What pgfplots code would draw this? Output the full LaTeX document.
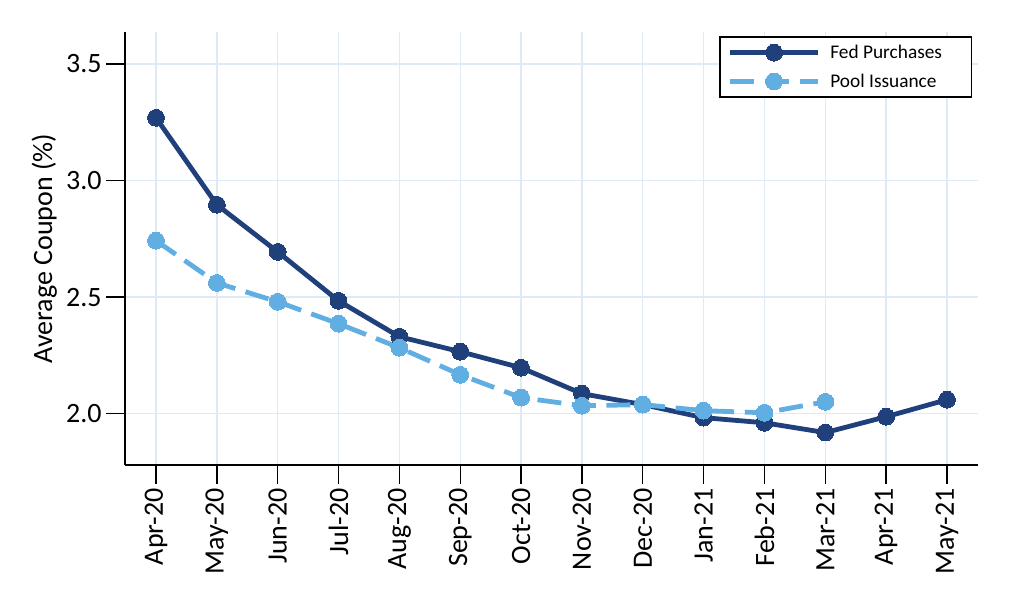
\documentclass[border=0pt]{standalone}
\usepackage{pgfplots}
\pgfplotsset{compat=1.18}
\usepackage{fontspec}
\setmainfont{Carlito}
\definecolor{fedblue}{RGB}{31,64,122}
\definecolor{poolblue}{RGB}{96,174,226}
\definecolor{gridblue}{RGB}{222,235,247}
\begin{document}
\begin{tikzpicture}
\begin{axis}[
    at={(0,0)}, anchor=south west,
    scale only axis,
    width=639.75pt, height=324.75pt,
    axis lines=left,
    axis line style={black, line width=1pt, -},
    xmin=-0.51, xmax=13.51,
    ymin=1.78, ymax=3.637,
    xtick={0,...,13},
    xticklabels={Apr-20,May-20,Jun-20,Jul-20,Aug-20,Sep-20,Oct-20,Nov-20,Dec-20,Jan-21,Feb-21,Mar-21,Apr-21,May-21},
    xticklabel style={rotate=90, anchor=east, font=\fontsize{21}{24}\selectfont},
    ytick={2.0,2.5,3.0,3.5},
    yticklabels={2.0,2.5,3.0,3.5},
    yticklabel style={font=\fontsize{21}{24}\selectfont},
    tick align=outside,
    major tick length=14pt,
    tick style={black, line width=1pt},
    grid=major,
    major grid style={gridblue, line width=1pt},
    ylabel={Average Coupon (\%)},
    ylabel style={font=\fontsize{21}{24}\selectfont},
    legend style={at={(0.993,0.99)}, anchor=north east, draw=black, line width=1pt,
        font=\fontsize{14.5}{16}\selectfont, row sep=6pt, inner xsep=6pt, inner ysep=4pt},
    legend cell align=left,
    legend image code/.code={
        \draw[#1, line width=3.6pt] (0cm,0cm) -- (2.3cm,0cm);
        \draw[#1, solid] plot coordinates {(1.15cm,0cm)};
        \path (2.5cm,0cm);
    },
]
\addplot[color=fedblue, line width=3.6pt, mark=*, mark size=6.3pt,
    mark options={solid, fill=fedblue, draw=fedblue, line width=0pt}]
coordinates {(0,3.269)(1,2.896)(2,2.694)(3,2.484)(4,2.330)(5,2.266)(6,2.197)(7,2.086)(8,2.039)(9,1.983)(10,1.961)(11,1.919)(12,1.987)(13,2.060)};
\addlegendentry{Fed Purchases\hspace*{14pt}}
\addplot[color=poolblue, line width=3.6pt, dash pattern=on 18pt off 8pt, mark=*, mark size=6.3pt,
    mark options={solid, fill=poolblue, draw=poolblue, line width=0pt}]
coordinates {(0,2.742)(1,2.561)(2,2.480)(3,2.386)(4,2.283)(5,2.167)(6,2.069)(7,2.034)(8,2.039)(9,2.013)(10,2.004)(11,2.051)};
\addlegendentry{Pool Issuance}
\end{axis}
\useasboundingbox (-93.75pt,-108pt) rectangle (674.25pt,348.75pt);
\end{tikzpicture}
\end{document}
